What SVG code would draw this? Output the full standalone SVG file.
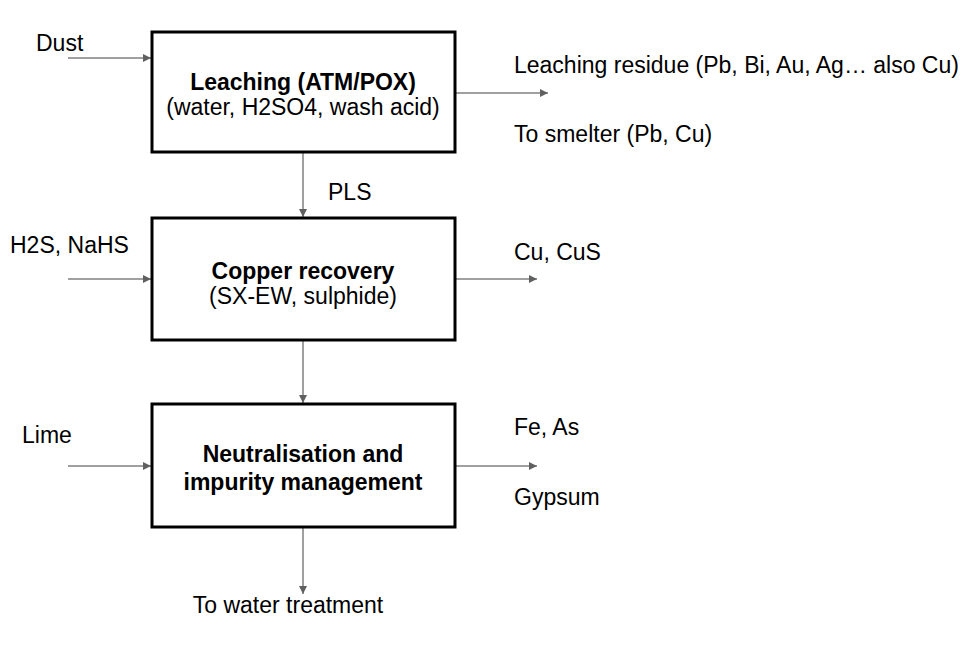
<svg xmlns="http://www.w3.org/2000/svg" width="980" height="652" viewBox="0 0 980 652">
<style>
text{font-family:"Liberation Sans",Arial,sans-serif;font-size:23px;fill:#000}
.b{font-weight:bold}
.box{fill:#fff;stroke:#000;stroke-width:3}
.c{stroke:#808080;stroke-width:1.5;fill:none;marker-end:url(#ah)}
</style>
<defs><marker id="ah" viewBox="0 0 10 10" refX="10" refY="5" markerWidth="8" markerHeight="8" markerUnits="userSpaceOnUse" orient="auto"><path d="M0,0L10,5L0,10z" fill="#606060"/></marker></defs>
<rect width="980" height="652" fill="#fff"/>
<g id="connectors">
<line class="c" x1="68" y1="58" x2="151" y2="58"/>
<line class="c" x1="456" y1="93" x2="548" y2="93"/>
<line class="c" x1="303" y1="153" x2="303" y2="217"/>
<line class="c" x1="68" y1="279" x2="151" y2="279"/>
<line class="c" x1="456" y1="279" x2="537" y2="279"/>
<line class="c" x1="303" y1="341" x2="303" y2="403"/>
<line class="c" x1="68" y1="466" x2="151" y2="466"/>
<line class="c" x1="456" y1="466" x2="537" y2="466"/>
<line class="c" x1="303" y1="528" x2="303" y2="594"/>
</g>
<g id="leaching"><rect class="box" x="152" y="32" width="303" height="120"/>
<text class="b" x="303" y="90" text-anchor="middle">Leaching (ATM/POX)</text>
<text x="303" y="115" text-anchor="middle">(water, H2SO4, wash acid)</text></g>
<g id="copper"><rect class="box" x="152" y="218" width="303" height="122"/>
<text class="b" x="303" y="279" text-anchor="middle">Copper recovery</text>
<text x="303" y="304" text-anchor="middle">(SX-EW, sulphide)</text></g>
<g id="neutral"><rect class="box" x="152" y="404" width="303" height="123"/>
<text class="b" x="303" y="462" text-anchor="middle">Neutralisation and</text>
<text class="b" x="303" y="490" text-anchor="middle">impurity management</text></g>
<g id="labels">
<text x="36" y="51">Dust</text>
<text x="514" y="73">Leaching residue (Pb, Bi, Au, Ag… also Cu)</text>
<text x="514" y="142">To smelter (Pb, Cu)</text>
<text x="328" y="200">PLS</text>
<text x="10" y="253">H2S, NaHS</text>
<text x="514" y="260">Cu, CuS</text>
<text x="22" y="443">Lime</text>
<text x="514" y="435">Fe, As</text>
<text x="514" y="505">Gypsum</text>
<text x="288" y="613" text-anchor="middle">To water treatment</text>
</g>
</svg>
